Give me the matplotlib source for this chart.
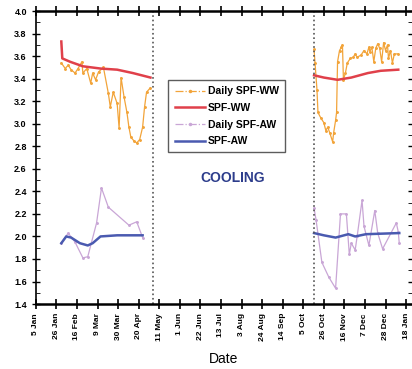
import matplotlib
matplotlib.use('Agg')
import matplotlib.pyplot as plt
from matplotlib.lines import Line2D
import pandas as pd

plt.rcParams['font.family'] = ['Liberation Sans', 'DejaVu Sans']

# daily SPF water-to-water, first heating period
ww1_dates = ['2005-01-31', '2005-02-04', '2005-02-07', '2005-02-10', '2005-02-14', '2005-02-17',
             '2005-02-21', '2005-02-22', '2005-02-26', '2005-03-02', '2005-03-04', '2005-03-07',
             '2005-03-10', '2005-03-15', '2005-03-20', '2005-03-22', '2005-03-25', '2005-03-29',
             '2005-03-31', '2005-04-02', '2005-04-05', '2005-04-08', '2005-04-10', '2005-04-12',
             '2005-04-15', '2005-04-18', '2005-04-21', '2005-04-24', '2005-04-26', '2005-04-28',
             '2005-05-02']
ww1_daily = [3.54, 3.49, 3.52, 3.48, 3.45, 3.49, 3.55, 3.45, 3.49, 3.36, 3.45, 3.39,
             3.46, 3.50, 3.27, 3.15, 3.28, 3.18, 2.96, 3.41, 3.24, 3.10, 2.97, 2.88,
             2.85, 2.83, 2.86, 2.97, 3.15, 3.28, 3.32]

# daily SPF water-to-water, second heating period
ww2_dates = ['2005-10-16', '2005-10-17', '2005-10-19', '2005-10-20', '2005-10-23', '2005-10-26',
             '2005-10-28', '2005-10-30', '2005-11-01', '2005-11-04', '2005-11-05', '2005-11-07',
             '2005-11-08', '2005-11-09', '2005-11-11', '2005-11-13', '2005-11-14', '2005-11-15',
             '2005-11-17', '2005-11-19', '2005-11-22', '2005-11-25', '2005-11-27', '2005-11-29',
             '2005-12-03', '2005-12-06', '2005-12-09', '2005-12-11', '2005-12-12', '2005-12-14',
             '2005-12-16', '2005-12-18', '2005-12-20', '2005-12-22', '2005-12-24', '2005-12-26',
             '2005-12-28', '2005-12-30', '2005-12-31', '2006-01-02', '2006-01-04', '2006-01-06',
             '2006-01-10']
ww2_daily = [3.66, 3.54, 3.30, 3.10, 3.05, 3.01, 2.94, 2.97, 2.92, 2.84, 2.92, 3.03,
             3.10, 3.55, 3.65, 3.68, 3.70, 3.39, 3.45, 3.54, 3.58, 3.59, 3.62, 3.59,
             3.61, 3.65, 3.62, 3.68, 3.64, 3.68, 3.55, 3.67, 3.71, 3.67, 3.55, 3.72,
             3.65, 3.70, 3.58, 3.65, 3.54, 3.62, 3.62]

# cumulative SPF water-to-water
spfww1_dates = ['2005-01-31', '2005-02-01', '2005-02-09', '2005-02-22', '2005-03-12', '2005-03-29',
                '2005-04-14', '2005-05-02']
spfww1 = [3.73, 3.58, 3.55, 3.51, 3.49, 3.48, 3.45, 3.41]
spfww2_dates = ['2005-10-16', '2005-10-26', '2005-11-09', '2005-11-23', '2005-12-10', '2005-12-23',
                '2006-01-10']
spfww2 = [3.43, 3.41, 3.39, 3.41, 3.45, 3.47, 3.48]

# daily SPF air-to-water
aw1_dates = ['2005-01-31', '2005-02-07', '2005-02-14', '2005-02-22', '2005-02-27', '2005-03-08',
             '2005-03-13', '2005-03-20', '2005-04-10', '2005-04-18', '2005-04-24']
aw1_daily = [1.94, 2.03, 1.95, 1.81, 1.82, 2.12, 2.43, 2.26, 2.10, 2.13, 1.99]
aw2_dates = ['2005-10-16', '2005-10-18', '2005-10-24', '2005-10-31', '2005-11-07', '2005-11-12',
             '2005-11-18', '2005-11-21', '2005-11-23', '2005-11-27', '2005-11-29', '2005-12-04',
             '2005-12-06', '2005-12-11', '2005-12-17', '2005-12-20', '2005-12-25', '2006-01-08',
             '2006-01-10', '2006-01-11']
aw2_daily = [2.25, 2.15, 1.77, 1.64, 1.54, 2.20, 2.20, 1.84, 1.94, 1.88, 2.00, 2.32,
             2.09, 1.92, 2.23, 2.03, 1.89, 2.12, 2.04, 1.94]

# cumulative SPF air-to-water
spfaw1_dates = ['2005-01-31', '2005-02-05', '2005-02-10', '2005-02-19', '2005-02-27', '2005-03-04',
                '2005-03-12', '2005-03-29', '2005-04-24']
spfaw1 = [1.94, 2.00, 1.99, 1.94, 1.92, 1.94, 2.00, 2.01, 2.01]
spfaw2_dates = ['2005-10-16', '2005-10-26', '2005-11-07', '2005-11-20', '2005-11-27', '2005-12-08',
                '2006-01-11']
spfaw2 = [2.03, 2.01, 1.99, 2.02, 2.00, 2.02, 2.03]

season_breaks = ['2005-05-05', '2005-10-16']

c_daily_ww = '#f2a43a'
c_ww = '#e0404a'
c_daily_aw = '#c9a6d6'
c_aw = '#4a5ab0'

d = pd.to_datetime

fig = plt.figure(figsize=(4.12, 3.69), dpi=100)
ax = fig.add_axes([0.087, 0.176, 0.913, 0.794])

for dts, vals in [(ww1_dates, ww1_daily), (ww2_dates, ww2_daily)]:
    ax.plot(d(dts), vals, color=c_daily_ww, lw=0.9, marker='.', ms=2.2)
for dts, vals in [(aw1_dates, aw1_daily), (aw2_dates, aw2_daily)]:
    ax.plot(d(dts), vals, color=c_daily_aw, lw=0.9, marker='.', ms=2.2)
for dts, vals in [(spfww1_dates, spfww1), (spfww2_dates, spfww2)]:
    ax.plot(d(dts), vals, color=c_ww, lw=1.8)
for dts, vals in [(spfaw1_dates, spfaw1), (spfaw2_dates, spfaw2)]:
    ax.plot(d(dts), vals, color=c_aw, lw=1.8)

for b in season_breaks:
    ax.axvline(d(b), color='#555555', ls=':', lw=1.2)

ax.text(d('2005-07-25'), 2.52, 'COOLING', color='#2d3d8c', fontsize=10,
        fontweight='bold', ha='center', va='center')

# x ticks every 21 days
ticks = pd.date_range('2005-01-05', '2006-01-18', freq='21D')
ax.set_xticks(ticks)
ax.set_xticklabels([f'{t.day} {t.strftime("%b")}' for t in ticks], rotation=90,
                   fontsize=6, fontweight='bold')
ax.set_xlim(d('2005-01-05'), d('2006-01-24'))
ax.set_ylim(1.4, 4.0)
ax.set_yticks([1.4, 1.6, 1.8, 2.0, 2.2, 2.4, 2.6, 2.8, 3.0, 3.2, 3.4, 3.6, 3.8, 4.0])
ax.set_yticklabels([f'{v:.1f}' for v in ax.get_yticks()], fontsize=6.5, fontweight='bold')
ax.set_yticks([1.5, 1.7, 1.9, 2.1, 2.3, 2.5, 2.7, 2.9, 3.1, 3.3, 3.5, 3.7, 3.9], minor=True)
ax.tick_params(axis='x', direction='inout', length=7, width=1.2, top=True, pad=3)
ax.tick_params(axis='y', which='major', direction='inout', length=6, width=1, right=True)
ax.tick_params(axis='y', which='minor', direction='in', length=3, right=True)
ax.set_xlabel('Date', fontsize=10, labelpad=8)

ax.spines['top'].set_linewidth(1.8)
ax.spines['bottom'].set_linewidth(1.8)
ax.spines['left'].set_linewidth(1.2)
ax.spines['right'].set_visible(False)

handles = [
    Line2D([], [], color=c_daily_ww, ls='-.', lw=0.9, marker='.', ms=3),
    Line2D([], [], color=c_ww, lw=1.8),
    Line2D([], [], color=c_daily_aw, ls='-.', lw=0.9, marker='.', ms=3),
    Line2D([], [], color=c_aw, lw=1.8),
]
leg = ax.legend(handles, ['Daily SPF-WW', 'SPF-WW', 'Daily SPF-AW', 'SPF-AW'],
                loc='upper left', bbox_to_anchor=(0.352, 0.765), borderaxespad=0,
                prop={'weight': 'bold', 'size': 7.5}, frameon=True, fancybox=False,
                edgecolor='#333333', handlelength=2.9, handletextpad=0.3,
                labelspacing=0.64, borderpad=0.6)
leg.get_frame().set_linewidth(1.0)

plt.savefig('out.png', dpi=100)
